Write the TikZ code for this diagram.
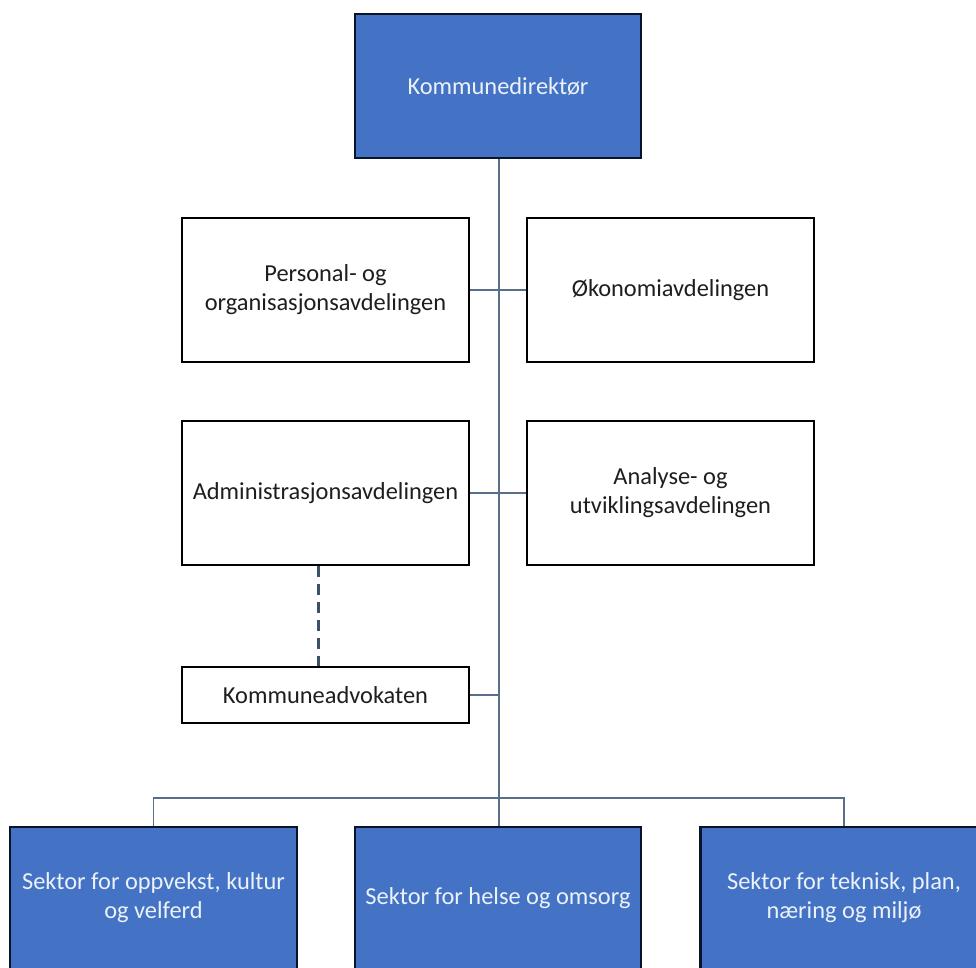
\documentclass[tikz,border=0pt]{standalone}
\usepackage{fontspec}
\setmainfont{Carlito}
\definecolor{boxblue}{RGB}{68,114,196}
\definecolor{linecol}{RGB}{88,110,140}
\definecolor{dashcol}{RGB}{60,80,105}
\definecolor{txtdark}{RGB}{30,30,30}
\begin{document}
\begin{tikzpicture}[x=1pt,y=-1pt,
  box/.style={draw=black,line width=2.9pt,rectangle,minimum width=287pt,minimum height=144pt,
    inner sep=0pt,align=center,font=\fontsize{24.4}{29}\selectfont},
  whitebox/.style={box,fill=white,text=txtdark},
  bluebox/.style={box,fill=boxblue,text={rgb,255:red,235;green,242;blue,250},draw={rgb,255:red,10;green,20;blue,40}},
  conn/.style={draw=linecol,line width=1.4pt},
  dashconn/.style={draw=dashcol,line width=3pt,dash pattern=on 11pt off 7pt}]
\useasboundingbox (0,0) rectangle (976,967);
\clip (0,0) rectangle (976,967);
\fill[white] (0,0) rectangle (976,967);
% nodes
\node[bluebox,minimum width=286pt] (dir) at (498,86) {Kommunedirektør};
\node[whitebox] (pers) at (325.5,290) {Personal- og\\organisasjonsavdelingen};
\node[whitebox] (oko) at (670.5,290) {Økonomiavdelingen};
\node[whitebox] (adm) at (325.5,493) {Administrasjonsavdelingen};
\node[whitebox] (ana) at (670.5,493) {Analyse- og\\utviklingsavdelingen};
\node[whitebox,minimum height=56pt] (adv) at (325.5,695) {Kommuneadvokaten};
\node[bluebox,minimum height=142pt] (s1) at (153.5,898) {Sektor for oppvekst, kultur\\og velferd};
\node[bluebox,minimum width=286pt,minimum height=142pt] (s2) at (498,898) {Sektor for helse og omsorg};
\node[bluebox,minimum height=142pt] (s3) at (844,898) {Sektor for teknisk, plan,\\næring og miljø};
% coordinates
\coordinate (bus) at (499,798);
\coordinate (busL) at (153.5,798);
\coordinate (busR) at (844,798);
\coordinate (tadv) at (499,695);
% connectors
\draw[conn] (dir.south -| bus) -- (bus);
\draw[conn] (pers.east) -- (oko.west);
\draw[conn] (adm.east) -- (ana.west);
\draw[conn] (adv.east) -- (tadv);
\draw[conn] (s1.north) -- (busL) -- (busR) -- (s3.north);
\draw[conn] (bus) -- (s2.north -| bus);
\draw[dashconn] ([xshift=-7.5pt]adm.south) -- ([xshift=-7.5pt]adv.north);
\end{tikzpicture}
\end{document}
